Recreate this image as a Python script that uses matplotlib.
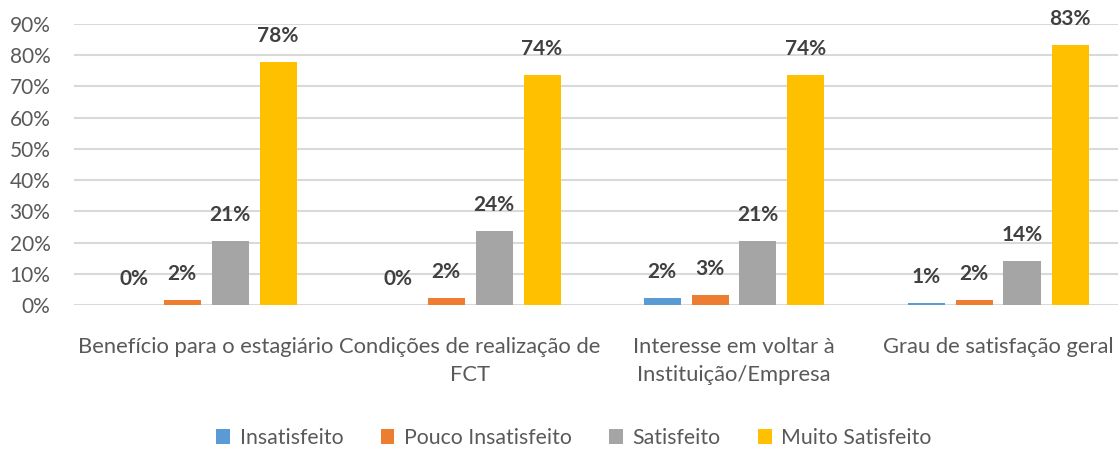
import matplotlib
matplotlib.use("Agg")
import matplotlib.pyplot as plt
import numpy as np

categories = ["Benefício para o estagiário", "Condições de realização de\nFCT",
              "Interesse em voltar à\nInstituição/Empresa", "Grau de satisfação geral"]
series_names = ["Insatisfeito", "Pouco Insatisfeito", "Satisfeito", "Muito Satisfeito"]
insatisfeito = [0.0, 0.0, 2.2, 0.7]
pouco_insatisfeito = [1.5, 2.2, 3.1, 1.5]
satisfeito = [20.6, 23.8, 20.6, 14.2]
muito_satisfeito = [77.8, 73.7, 73.7, 83.3]
yticks = [0, 10, 20, 30, 40, 50, 60, 70, 80, 90]

colors = ["#5B9BD5", "#ED7D31", "#A5A5A5", "#FFC000"]
values = [insatisfeito, pouco_insatisfeito, satisfeito, muito_satisfeito]

plt.rcParams['font.family'] = ['Lato', 'DejaVu Sans']

fig = plt.figure(figsize=(11.18, 4.5), dpi=100)
ax = fig.add_axes([74/1118, 1-305/450, 1056/1118, (305-24)/450])

x = np.arange(len(categories))
step = 48/264
width = 37/264
for i, (name, vals, c) in enumerate(zip(series_names, values, colors)):
    pos = x + (i - 1.5) * step
    bars = ax.bar(pos, vals, width=width, color=c, label=name, zorder=3)
    for b, v in zip(bars, vals):
        ax.annotate(f"{round(v):d}%", (b.get_x() + b.get_width()/2, v),
                    xytext=(0, 11.5), textcoords="offset points", ha="center", va="bottom",
                    fontsize=15, fontweight="bold", color="#404040")

ax.set_xlim(-0.5, len(categories) - 0.5)
ax.set_ylim(0, 90)
ax.set_yticks(yticks)
ax.set_yticklabels([f"{t}%" for t in yticks])
ax.grid(axis="y", color="#D9D9D9", linewidth=1.5, zorder=0)
for s in ax.spines.values():
    s.set_visible(False)
ax.tick_params(axis="y", length=0, pad=17, labelsize=15, labelcolor="#595959")
ax.set_xticks(x)
ax.set_xticklabels(categories, fontsize=15.8, color="#595959", linespacing=1.5)
ax.tick_params(axis="x", length=0, pad=23)

fig.legend(loc="center", bbox_to_anchor=(574/1118, 1-438/450), ncol=4, frameon=False,
           fontsize=15.3, handlelength=0.65, handleheight=0.65, handletextpad=0.45,
           columnspacing=1.75, labelcolor="#595959")

fig.savefig("out.png", dpi=100)
